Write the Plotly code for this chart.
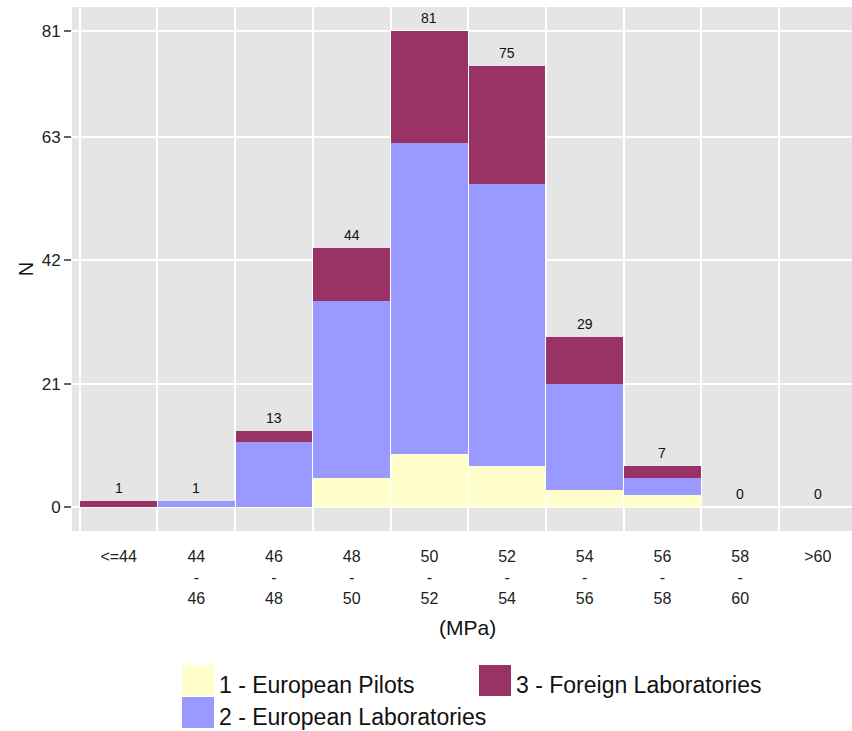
import plotly.graph_objects as go

categories = ["<=44", "44<br>-<br>46", "46<br>-<br>48", "48<br>-<br>50", "50<br>-<br>52",
              "52<br>-<br>54", "54<br>-<br>56", "56<br>-<br>58", "58<br>-<br>60", ">60"]
pilots = [0, 0, 0, 5, 9, 7, 3, 2, 0, 0]
eu_labs = [0, 1, 11, 30, 53, 48, 18, 3, 0, 0]
foreign = [1, 0, 2, 9, 19, 20, 8, 2, 0, 0]
y_ticks = [0, 21, 42, 63, 81]

series_names = ["1 - European Pilots", "2 - European Laboratories", "3 - Foreign Laboratories"]
series_colors = ["#FFFFCC", "#9999FF", "#993366"]

totals = [a + b + c for a, b, c in zip(pilots, eu_labs, foreign)]
xpos = list(range(len(categories)))

W, H = 852, 731
ML, MR, MT, MB = 72, 0, 7, 200
PW, PH = W - ML - MR, H - MT - MB


def px(x):
    return (x - ML) / PW


def py(y):
    return (H - MB - y) / PH


fig = go.Figure()
for name, vals, col in zip(series_names, [pilots, eu_labs, foreign], series_colors):
    fig.add_trace(go.Bar(x=xpos, y=vals, name=name, width=0.985,
                         marker=dict(color=col, line=dict(width=0)),
                         showlegend=False))

# count labels above the bars
for xv, t in zip(xpos, totals):
    fig.add_annotation(x=xv, y=t, xref="x", yref="y", text=str(t), showarrow=False,
                       yanchor="bottom", yshift=3,
                       font=dict(family="Liberation Sans, Arial", size=14, color="#111111"))

fig.update_layout(
    width=W, height=H,
    margin=dict(l=ML, r=MR, t=MT, b=MB),
    barmode="stack",
    bargap=0,
    paper_bgcolor="white",
    plot_bgcolor="#E5E5E5",
    font=dict(family="Liberation Sans, Arial", color="#222222"),
)

fig.update_xaxes(
    range=[-0.6, 9.44],
    tickmode="array", tickvals=xpos, ticktext=categories,
    showgrid=False, zeroline=False, showline=False,
    ticks="", ticklabelstandoff=14,
    tickfont=dict(size=16, color="#222222"),
    minor=dict(tick0=-0.5, dtick=1, showgrid=True, gridcolor="white", gridwidth=1.5, ticks=""),
)

fig.update_yaxes(
    range=[-4.05, 85.05],
    tickmode="array", tickvals=y_ticks,
    showgrid=True, gridcolor="white", gridwidth=1.5,
    zeroline=False, showline=False,
    ticks="outside", ticklen=7, tickcolor="#666666", tickwidth=1.5,
    tickfont=dict(size=17, color="#222222"),
    title=dict(text="N", font=dict(size=20, color="#111111"), standoff=2),
)

# x axis title
fig.add_annotation(x=px(467), y=py(627), xref="paper", yref="paper", text="(MPa)",
                   showarrow=False, xanchor="center", yanchor="middle",
                   font=dict(size=21, color="#111111"))

# manual legend
legend_items = [
    (series_names[0], series_colors[0], 182, 665),
    (series_names[1], series_colors[1], 182, 697),
    (series_names[2], series_colors[2], 479, 665),
]
for name, col, lx, ly in legend_items:
    fig.add_shape(type="rect", xref="paper", yref="paper",
                  x0=px(lx), x1=px(lx + 32), y0=py(ly), y1=py(ly + 31),
                  fillcolor=col, line=dict(width=0))
    fig.add_annotation(x=px(lx + 35), y=py(ly + 20), xref="paper", yref="paper",
                       text=name, showarrow=False, xanchor="left", yanchor="middle",
                       font=dict(size=23, color="#111111"))

fig.write_html("out.html", config={"displayModeBar": False},
               post_script="document.body.style.margin='0px';document.body.style.overflow='hidden';")
